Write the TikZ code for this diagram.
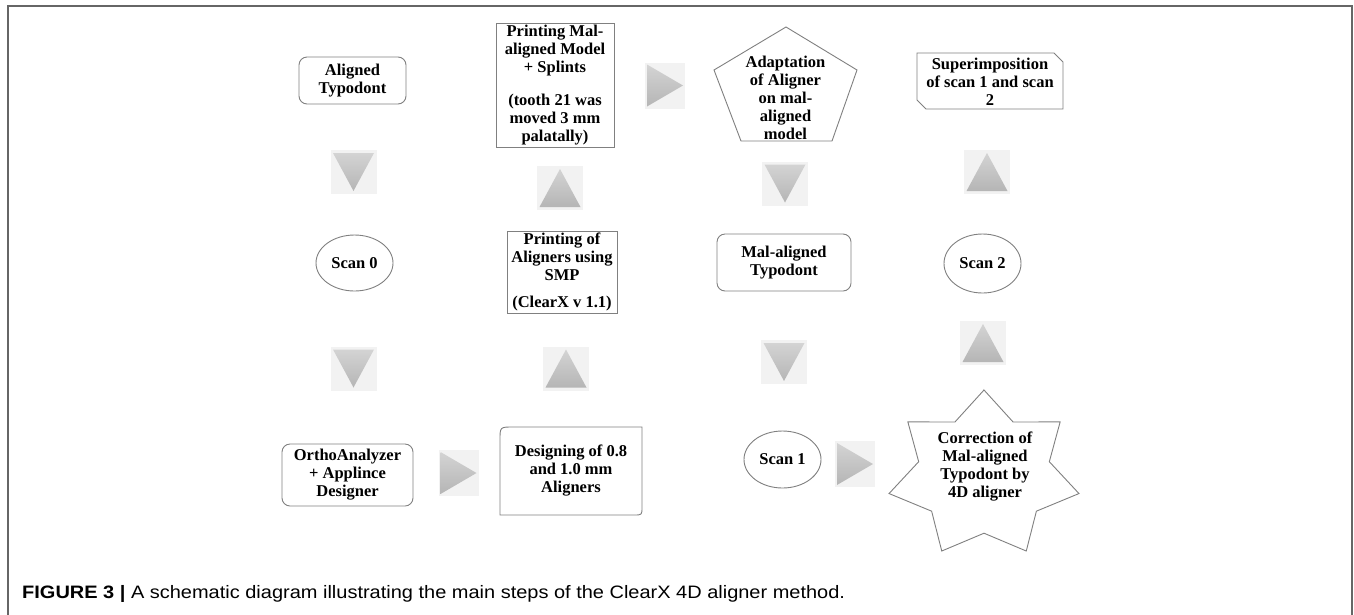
\documentclass[tikz,border=0pt]{standalone}
\usepackage{fontspec}
\setmainfont{Liberation Serif}
\setsansfont{Liberation Sans}
\usetikzlibrary{shapes.geometric}
\begin{document}
\begin{tikzpicture}[x=1pt,y=-1pt,
  lbl/.style={align=center,font=\fontsize{16.5}{18}\selectfont\bfseries,inner sep=0pt},
  shp/.style={draw=black!50,line width=0.9pt},
  rbox/.style={shp,lbl,rounded corners=8pt},
  sbox/.style={shp,lbl},
  ebox/.style={shp,lbl,ellipse},
  trishade/.style={top color=black!17,bottom color=black!29},
  dtri/.pic={\fill[black!5] (-23,-22) rectangle (23,22);
             \shade[trishade] (-20.5,-19) -- (20.5,-19) -- (0,19) -- cycle;},
  utri/.pic={\fill[black!5] (-23,-22) rectangle (23,22);
             \shade[trishade] (-20.5,19) -- (20.5,19) -- (0,-19) -- cycle;},
  rtri/.pic={\fill[black!5] (-20,-23) rectangle (20,23);
             \shade[trishade] (-18,-21) -- (-18,21) -- (18,0) -- cycle;}
]
\useasboundingbox (0,0) rectangle (1354,614);
\fill[white] (0,0) rectangle (1354,614);
% frame
\draw[black!60,line width=1.6pt] (8,640) -- (8,6) -- (1352,6) -- (1352,640);

% column 1
\node[rbox,minimum width=107pt,minimum height=47pt] (aligned) at (352.5,80.5) {Aligned\\Typodont};
\node[ebox,minimum width=77pt,minimum height=56pt] (scan0) at (354.5,263) {Scan 0};
\node[rbox,minimum width=131pt,minimum height=62pt] (ortho) at (347.5,475) {OrthoAnalyzer\\+ Applince\\Designer};

% column 2
\node[sbox,minimum width=118pt,minimum height=124pt] (printmal) at (555,85)
  {Printing Mal-\\aligned Model\\+ Splints\\[15pt](tooth 21 was\\moved 3 mm\\palatally)};
\node[sbox,minimum width=110pt,minimum height=82pt] (printal) at (562,272)
  {Printing of\\Aligners using\\SMP\\[9pt](ClearX v 1.1)};
\draw[shp] (500,515) -- (500,440) .. controls (500,427) .. (513,427) -- (642,427)
  -- (642,507) .. controls (642,515) .. (634,515) -- cycle;
\node[lbl] (design) at (571,471) {Designing of 0.8\\and 1.0 mm\\Aligners};

% column 3
\draw[shp] (786,27) -- (857,70) -- (832,141) -- (741,141) -- (714,70) -- cycle;
\node[lbl] (adapt) at (785.5,97.5) {Adaptation\\of Aligner\\on mal-\\aligned\\model};
\node[rbox,minimum width=134pt,minimum height=57pt] (malty) at (784,262.5) {Mal-aligned\\Typodont};
\node[ebox,minimum width=77pt,minimum height=57pt] (scan1) at (782.5,459.5) {Scan 1};

% column 4
\draw[shp] (917,53) -- (1054,53) -- (1063,62) -- (1063,109) -- (926,109) -- (917,100) -- cycle;
\node[lbl] (superimp) at (990,81.5) {Superimposition\\of scan 1 and scan\\2};
\node[ebox,minimum width=77pt,minimum height=59pt] (scan2) at (982.5,263.5) {Scan 2};
\draw[shp,shift={(984,474.7)}] (-90:97.4 and 84.7)
  \foreach \k in {0,...,6}{ -- ({-90+51.4286*\k+25.7143}:67 and 58.5) -- ({-90+51.4286*(\k+1)}:97.4 and 84.7)} -- cycle;
\node[lbl] (correct) at (985,467) {Correction of\\Mal-aligned\\Typodont by\\4D aligner};

% block arrows
\pic at (353.5,172) {dtri};
\pic at (353.5,368.5) {dtri};
\pic at (560,188) {utri};
\pic at (566,368.5) {utri};
\pic at (785,183.5) {dtri};
\pic at (784,362) {dtri};
\pic at (987,172) {utri};
\pic at (983,343) {utri};
\pic at (665,85.5) {rtri};
\pic at (458.5,473) {rtri};
\pic at (855,464) {rtri};

% caption
\node[anchor=west,inner sep=0pt,font=\sffamily\fontsize{18}{20}\selectfont] (cap) at (22,594)
  {\scalebox{1.11}[1]{\textbf{FIGURE 3 |} A schematic diagram illustrating the main steps of the ClearX 4D aligner method.}};
\end{tikzpicture}
\end{document}
